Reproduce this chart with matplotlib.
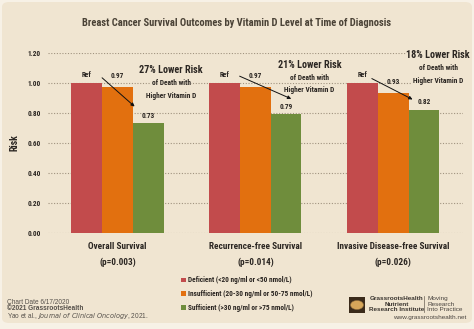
import matplotlib
matplotlib.use("Agg")
import matplotlib.pyplot as plt
from matplotlib import font_manager as fm
from matplotlib.patches import FancyBboxPatch, Rectangle, Circle
import numpy as np

names = sorted({f.name for f in fm.fontManager.ttflist})
cond = None
for cand in ["Liberation Sans Narrow", "DejaVu Sans Condensed", "Roboto Condensed", "Open Sans Condensed", "Noto Sans Condensed"]:
    if cand in names:
        cond = cand
        break
if cond is None:
    cond = "DejaVu Sans"

categories = ["Overall Survival", "Recurrence-free Survival", "Invasive Disease-free Survival"]
pvalues = ["(p=0.003)", "(p=0.014)", "(p=0.026)"]
series_names = ["Deficient (<20 ng/ml or <50 nmol/L)",
                "Insufficient (20-30 ng/ml or 50-75 nmol/L)",
                "Sufficient (>30 ng/ml or >75 nmol/L)"]
deficient = [1.00, 1.00, 1.00]
insufficient = [0.97, 0.97, 0.93]
sufficient = [0.73, 0.79, 0.82]
value_labels = [["Ref", "Ref", "Ref"], ["0.97", "0.97", "0.93"], ["0.73", "0.79", "0.82"]]
reductions = ["27% Lower Risk", "21% Lower Risk", "18% Lower Risk"]
yticks = [0.0, 0.2, 0.4, 0.6, 0.8, 1.0, 1.2]

colors = ["#c24b4c", "#e2700f", "#6f8d3c"]
bg = "#f0e5d1"
dark = "#2b2622"

W, H = 474, 329
fig = plt.figure(figsize=(W / 100, H / 100), dpi=100)
fig.patch.set_facecolor("#f7f1e6")
panel = FancyBboxPatch((2 / W, 6 / H), 470 / W, 321 / H, boxstyle="round,pad=0,rounding_size=0.015",
                       transform=fig.transFigure, facecolor=bg, edgecolor="none", zorder=-5)
fig.patches.append(panel)

ax = fig.add_axes([48 / W, 96.3 / H, 415 / W, 180 / H])
ax.set_zorder(2)
ax.set_facecolor("none")
x = np.arange(len(categories))
w = 0.2226
for i, vals in enumerate([deficient, insufficient, sufficient]):
    ax.bar(x + (i - 1) * w, vals, width=w, color=colors[i], zorder=3, linewidth=0)

ax.set_xlim(-0.504, 2.505)
ax.set_ylim(0, 1.2)
ax.set_yticks(yticks)
ax.set_yticklabels([f"{t:.2f}" for t in yticks], fontsize=5.2, fontweight="bold", family=cond, color=dark)
ax.yaxis.grid(True, color="#a0937f", linestyle=(0, (1, 1.5)), linewidth=0.8, zorder=0)
ax.set_axisbelow(True)
ax.tick_params(axis="y", length=0, pad=5)
ax.set_xticks(x)
ax.set_xticklabels([f"{c}\n{p}" for c, p in zip(categories, pvalues)], fontsize=6.7, family=cond,
                   fontweight="bold", color=dark, linespacing=1.8)
ax.tick_params(axis="x", length=0, pad=7)
for s in ax.spines.values():
    s.set_visible(False)
ax.set_ylabel("Risk", fontsize=7, family=cond, fontweight="bold", color=dark, labelpad=6)

# value labels (offsets in points above bar top)
offsets = [5.5, 8.3, 5.4]
for i, vals in enumerate([deficient, insufficient, sufficient]):
    for g in range(3):
        ax.annotate(value_labels[i][g], (x[g] + (i - 1) * w, vals[g]), xytext=(0, offsets[i]),
                    textcoords="offset points", ha="center", va="center", fontsize=5.2,
                    fontweight="bold", family=cond, color=dark, zorder=5)

arrows = [((-0.127, 1.045), (0.139, 0.829)),
          ((-0.133, 1.051), (0.278, 0.885)),
          ((-0.174, 1.036), (0.157, 0.880))]
for g, (s, e) in enumerate(arrows):
    ax.annotate("", xy=(x[g] + e[0], e[1]), xytext=(x[g] + s[0], s[1]),
                arrowprops=dict(arrowstyle="-|>", color="#111111", lw=0.7, mutation_scale=5), zorder=6)

ann_pos = [(0.388, 1.085, 0.996, 0.911), (0.392, 1.118, 1.033, 0.951), (0.325, 1.185, 1.096, 1.013)]
for g, (dx, y1, y2, y3) in enumerate(ann_pos):
    kw = dict(ha="center", va="center", family=cond, color=dark, zorder=7, fontweight="bold",
              bbox=dict(facecolor=bg, edgecolor="none", pad=0.6))
    ax.text(x[g] + dx, y1, reductions[g], fontsize=7.3, **kw)
    ax.text(x[g] + dx, y2, "of Death with", fontsize=5.3, **kw)
    ax.text(x[g] + dx, y3, "Higher Vitamin D", fontsize=5.3, **kw)

fig.text(237 / W, 1 - 22.5 / H, "Breast Cancer Survival Outcomes by Vitamin D Level at Time of Diagnosis",
         ha="center", va="center", fontsize=7.6, fontweight="bold", family=cond, color="#4a4236")

# legend
leg_y = [280, 293.5, 307.5]
for i, (nm, c) in enumerate(zip(series_names, colors)):
    fig.patches.append(Rectangle((181 / W, 1 - (leg_y[i] + 2.3) / H), 4.6 / W, 4.6 / H,
                                 transform=fig.transFigure, facecolor=c, edgecolor="none"))
    fig.text(188 / W, 1 - leg_y[i] / H, nm, ha="left", va="center", fontsize=5.2, fontweight="bold",
             family=cond, color=dark)

# footer
ft = dict(ha="left", va="center", fontsize=4.7, family="Liberation Sans", color="#55504a")
fig.text(7 / W, 1 - 302 / H, "Chart Date 6/17/2020", **ft)
fig.text(7 / W, 1 - 309 / H, "©2021 GrassrootsHealth", fontweight="bold", **ft)
fig.text(7 / W, 1 - 316 / H, "Yao et al., $\\it{Journal\\ of\\ Clinical\\ Oncology}$, 2021.", **ft)

# logo
fig.patches.append(Rectangle((349 / W, 1 - 313 / H), 16 / W, 16 / H, transform=fig.transFigure,
                             facecolor="#3a2a1a", edgecolor="none"))
fig.patches.append(Circle((357 / W, 1 - 305 / H), 6.5 / W, transform=fig.transFigure,
                          facecolor="#d6a65a", edgecolor="#8a6a3a", linewidth=0.4))
lg = dict(ha="center", va="center", fontsize=4.6, family="Liberation Sans", color="#3a3530", fontweight="bold")
fig.text(397 / W, 1 - 298.5 / H, "GrassrootsHealth", **lg)
fig.text(397 / W, 1 - 304 / H, "Nutrient", **lg)
fig.text(397 / W, 1 - 309.5 / H, "Research Institute", **lg)
fig.lines.append(plt.Line2D([424 / W, 424 / W], [1 - 312 / H, 1 - 296 / H], transform=fig.transFigure,
                            color="#6a6055", lw=0.5))
lr = dict(ha="left", va="center", fontsize=4.6, family="Liberation Sans", color="#4a4540")
fig.text(427 / W, 1 - 298.5 / H, "Moving", **lr)
fig.text(427 / W, 1 - 304 / H, "Research", **lr)
fig.text(427 / W, 1 - 309.5 / H, "Into Practice", **lr)
fig.text(466 / W, 1 - 318 / H, "www.grassrootshealth.net", ha="right", va="center", fontsize=4.6,
         family="Liberation Sans", color="#4a4540")

fig.savefig("out.png", dpi=100, facecolor=fig.get_facecolor())
